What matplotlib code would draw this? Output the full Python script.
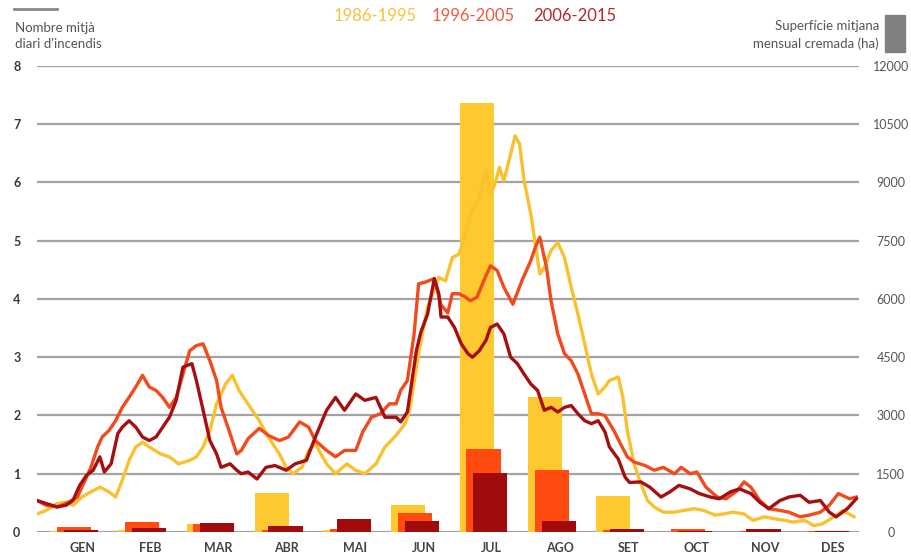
import numpy as np
import matplotlib
matplotlib.use("Agg")
import matplotlib.pyplot as plt

plt.rcParams["font.family"] = ["Lato", "DejaVu Sans"]

months = ["GEN", "FEB", "MAR", "ABR", "MAI", "JUN", "JUL", "AGO", "SET", "OCT", "NOV", "DES"]
decades = ["1986-1995", "1996-2005", "2006-2015"]

# superficie mitjana mensual cremada (ha)
area_8695 = [20, 40, 200, 1000, 50, 690, 11040, 3480, 935, 10, 10, 10]
area_9605 = [140, 250, 210, 50, 70, 480, 2130, 1600, 40, 70, 30, 20]
area_0615 = [60, 100, 230, 150, 330, 290, 1510, 280, 70, 20, 70, 20]

# nombre mitja diari d'incendis (dia de l'any, valor)
days_8695 = [0, 4, 9, 13, 16, 20, 25, 28, 32, 35, 38, 41, 44, 47, 50, 55, 59, 63, 68, 71,
             74, 77, 80, 84, 87, 90, 95, 99, 103, 108, 111, 114, 118, 121, 124, 129, 133,
             138, 142, 146, 151, 155, 160, 164, 166, 170, 174, 179, 182, 185, 188, 191,
             193, 197, 200, 202, 204, 206, 208, 211, 213, 215, 217, 220, 222, 224, 226,
             229, 232, 235, 238, 241, 244, 247, 250, 253, 255, 259, 261, 263, 266, 269,
             272, 275, 279, 284, 288, 293, 297, 302, 306, 310, 315, 319, 324, 328, 333,
             337, 342, 346, 350, 355, 359, 364]
fires_8695 = [0.31, 0.37, 0.49, 0.51, 0.46, 0.60, 0.71, 0.77, 0.69, 0.60, 0.89, 1.23, 1.46,
              1.54, 1.46, 1.34, 1.29, 1.17, 1.23, 1.29, 1.46, 1.74, 2.20, 2.54, 2.69, 2.43,
              2.14, 1.91, 1.63, 1.34, 1.11, 1.00, 1.11, 1.40, 1.51, 1.17, 1.00, 1.17, 1.06,
              1.00, 1.17, 1.46, 1.66, 1.86, 2.09, 3.06, 3.86, 4.37, 4.31, 4.71, 4.77, 5.11,
              5.46, 5.74, 6.20, 5.80, 5.97, 6.26, 6.03, 6.49, 6.80, 6.66, 6.03, 5.46, 4.94,
              4.43, 4.54, 4.83, 4.97, 4.71, 4.20, 3.74, 3.23, 2.71, 2.37, 2.49, 2.60, 2.66,
              2.31, 1.74, 1.17, 0.83, 0.54, 0.43, 0.34, 0.34, 0.37, 0.40, 0.37, 0.29, 0.31,
              0.34, 0.31, 0.20, 0.26, 0.23, 0.20, 0.17, 0.20, 0.11, 0.14, 0.26, 0.37, 0.26]

days_9605 = [0, 4, 9, 13, 18, 20, 24, 27, 29, 32, 35, 38, 41, 44, 47, 50, 53, 56, 59, 62,
             65, 68, 71, 74, 77, 80, 82, 86, 89, 91, 94, 99, 103, 108, 112, 117, 121, 124,
             129, 133, 137, 142, 145, 149, 153, 157, 160, 162, 165, 168, 170, 173, 177,
             180, 183, 185, 188, 191, 193, 196, 199, 202, 205, 208, 212, 216, 220, 222,
             224, 227, 229, 232, 235, 238, 241, 244, 247, 250, 253, 257, 260, 263, 266,
             271, 275, 279, 284, 287, 291, 294, 298, 303, 307, 312, 315, 318, 322, 326,
             331, 335, 340, 344, 349, 353, 357, 362, 365]
fires_9605 = [0.54, 0.46, 0.43, 0.49, 0.60, 0.77, 1.11, 1.46, 1.63, 1.74, 1.91, 2.14, 2.31,
              2.49, 2.69, 2.49, 2.43, 2.31, 2.14, 2.31, 2.71, 3.11, 3.20, 3.23, 2.94, 2.60,
              2.14, 1.69, 1.34, 1.40, 1.60, 1.78, 1.66, 1.57, 1.63, 1.89, 1.80, 1.57, 1.40,
              1.29, 1.40, 1.40, 1.71, 1.97, 2.03, 2.20, 2.20, 2.43, 2.60, 3.40, 4.26, 4.29,
              4.35, 3.90, 3.76, 4.09, 4.09, 4.03, 3.97, 4.03, 4.31, 4.57, 4.49, 4.20, 3.91,
              4.31, 4.66, 4.89, 5.06, 4.54, 3.97, 3.40, 3.06, 2.94, 2.71, 2.37, 2.03, 2.03,
              2.00, 1.74, 1.51, 1.29, 1.20, 1.14, 1.06, 1.11, 1.00, 1.11, 1.00, 1.03, 0.77,
              0.60, 0.57, 0.71, 0.86, 0.77, 0.54, 0.40, 0.37, 0.34, 0.26, 0.29, 0.34, 0.46,
              0.66, 0.57, 0.60]

days_0615 = [0, 4, 9, 13, 16, 19, 22, 25, 28, 30, 33, 36, 38, 41, 44, 47, 50, 53, 56, 59,
             62, 65, 69, 71, 74, 77, 80, 82, 86, 89, 91, 94, 98, 102, 106, 111, 115, 120,
             124, 129, 133, 137, 142, 146, 151, 155, 160, 162, 165, 169, 171, 174, 177,
             179, 180, 183, 186, 189, 192, 194, 197, 200, 202, 205, 208, 211, 214, 217,
             220, 223, 226, 229, 232, 235, 238, 241, 244, 247, 250, 253, 255, 259, 262,
             264, 269, 273, 278, 282, 286, 291, 295, 300, 304, 309, 313, 318, 322, 326,
             331, 335, 340, 344, 349, 353, 356, 361, 365]
fires_0615 = [0.54, 0.49, 0.43, 0.46, 0.54, 0.80, 0.97, 1.06, 1.29, 1.03, 1.17, 1.69, 1.80,
              1.91, 1.80, 1.63, 1.57, 1.63, 1.80, 1.97, 2.26, 2.83, 2.89, 2.60, 2.09, 1.57,
              1.34, 1.11, 1.17, 1.06, 1.00, 1.03, 0.91, 1.11, 1.14, 1.06, 1.17, 1.23, 1.63,
              2.09, 2.31, 2.09, 2.37, 2.26, 2.31, 1.97, 1.97, 1.89, 2.06, 3.11, 3.43, 3.74,
              4.35, 4.09, 3.69, 3.69, 3.51, 3.23, 3.06, 3.00, 3.11, 3.29, 3.51, 3.57, 3.40,
              3.00, 2.89, 2.71, 2.54, 2.43, 2.09, 2.14, 2.06, 2.14, 2.17, 2.03, 1.91, 1.86,
              1.91, 1.72, 1.46, 1.25, 0.94, 0.85, 0.86, 0.77, 0.60, 0.69, 0.80, 0.74, 0.66,
              0.60, 0.57, 0.69, 0.74, 0.66, 0.51, 0.40, 0.54, 0.60, 0.63, 0.51, 0.54, 0.34,
              0.26, 0.40, 0.57]

bar_colors = ["#FDC830", "#FF4A10", "#A20B0B"]
line_colors = ["#F9C12E", "#F24A1C", "#A50F12"]
text_colors = ["#F7C23C", "#EF5A3C", "#B0282E"]

fig = plt.figure(figsize=(9.12, 5.53), dpi=100)
ax2 = fig.add_axes([0.0406, 0.038, 0.9013, 0.8427])
ax = ax2.twinx()

# barres (eix dret)
x = np.arange(len(months))
offsets = [-0.22, -0.12, -0.02]
for area, off, col in zip([area_8695, area_9605, area_0615], offsets, bar_colors):
    ax2.bar(x + off, area, width=0.5, color=col, zorder=2)

ax2.set_ylim(0, 12000)
ax2.set_yticks(np.arange(0, 12001, 1500))
ax2.yaxis.tick_right()
ax2.grid(axis="y", color="#A3A3A3", linewidth=1.6, zorder=0)
ax2.set_axisbelow(True)
ax2.tick_params(axis="y", length=0, pad=23, labelsize=9, labelcolor="#555555")
plt.setp(ax2.get_yticklabels(), ha="center")
ax2.set_xticks(x)
ax2.set_xticklabels(months, fontweight="bold")
ax2.tick_params(axis="x", length=0, pad=7, labelsize=9, labelcolor="#444444")
ax2.set_xlim(-0.66, 11.38)

# linies (eix esquerre)
for days, fires, col in zip([days_8695, days_9605, days_0615],
                            [fires_8695, fires_9605, fires_0615], line_colors):
    xd = np.array(days) / 365 * 12 - 0.66
    ax.plot(xd, fires, color=col, linewidth=2.4, solid_joinstyle="round")

ax.set_ylim(0, 8)
ax.set_yticks(range(0, 9))
ax.yaxis.tick_left()
ax.tick_params(axis="y", length=0, pad=12, labelsize=9, labelcolor="#3a3a3a")
for t in ax.get_yticklabels():
    t.set_fontweight("bold")
ax.set_xlim(-0.66, 11.38)

ax.set_zorder(ax2.get_zorder() + 1)
ax.patch.set_visible(False)
for a in (ax, ax2):
    for s in a.spines.values():
        s.set_visible(False)

# capcaleres
fig.add_artist(plt.Line2D([14 / 912, 57 / 912], [1 - 9 / 553, 1 - 9 / 553],
                          color="#888888", linewidth=2))
fig.text(15 / 912, 1 - 36 / 553, "Nombre mitjà\ndiari d'incendis", fontsize=9.5,
         color="#555555", va="center", ha="left", linespacing=1.45)
fig.text(879 / 912, 1 - 35 / 553, "Superfície mitjana\nmensual cremada (ha)", fontsize=9.5,
         color="#555555", va="center", ha="right", linespacing=1.45)
fig.add_artist(plt.Rectangle((885 / 912, 1 - 52 / 553), 20 / 912, 37 / 553,
                             color="#808080"))
for label, col, cx in zip(decades, text_colors, [375, 473, 575]):
    fig.text(cx / 912, 1 - 16 / 553, label, fontsize=12, color=col, ha="center", va="center")

fig.savefig("out.png", dpi=100)
